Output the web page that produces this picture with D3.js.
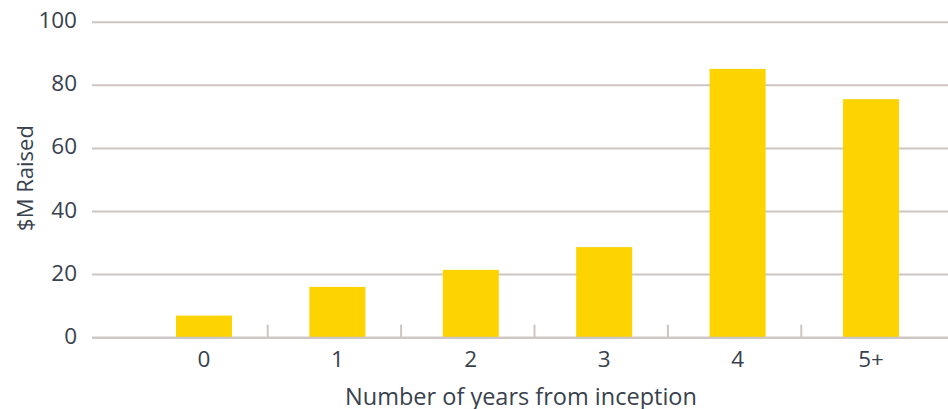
<!DOCTYPE html>
<html>
<head>
<meta charset="utf-8">
<script src="https://cdn.jsdelivr.net/npm/d3@7/dist/d3.min.js"></script>
<style>
  html, body { margin: 0; padding: 0; background: #fff; }
  svg { display: block; }
  text { font-family: "Open Sans", "Noto Sans", sans-serif; fill: #38414d; }
</style>
</head>
<body>
<svg id="chart" width="948" height="409"></svg>
<script>
// Funds raised by years since inception
const categories = ["0", "1", "2", "3", "4", "5+"];
const raised = [7, 16.1, 21.5, 28.7, 85.2, 75.6];
const yTicks = [0, 20, 40, 60, 80, 100];

const svg = d3.select("#chart");

const gridColor = "#ccc5c2";
const barColor = "#fdd300";

const plotLeft = 92, plotRight = 948;
const y = d3.scaleLinear().domain([0, 100]).range([337.7, 22.2]);

const x = d3.scaleBand()
  .domain(categories)
  .range([137.3, 937.7])
  .paddingInner(0.58)
  .paddingOuter(0.29);

// horizontal gridlines
svg.append("g")
  .selectAll("line")
  .data(yTicks)
  .join("line")
  .attr("x1", plotLeft)
  .attr("x2", plotRight)
  .attr("y1", d => y(d))
  .attr("y2", d => y(d))
  .attr("stroke", gridColor)
  .attr("stroke-width", 2);

// y tick labels
svg.append("g")
  .selectAll("text")
  .data(yTicks)
  .join("text")
  .attr("x", 77)
  .attr("y", d => y(d) + 6)
  .attr("text-anchor", "end")
  .attr("font-size", 22.5)
  .text(d => d);

// bars
svg.append("g")
  .selectAll("rect")
  .data(categories.map((c, i) => ({ c, v: raised[i] })))
  .join("rect")
  .attr("x", d => x(d.c))
  .attr("width", x.bandwidth())
  .attr("y", d => y(d.v))
  .attr("height", d => y(0) - y(d.v))
  .attr("fill", barColor);

// category separators on the baseline
const gap = x.step() - x.bandwidth();
svg.append("g")
  .selectAll("line")
  .data(categories.slice(0, -1))
  .join("line")
  .attr("x1", d => x(d) + x.bandwidth() + gap / 2 - 3)
  .attr("x2", d => x(d) + x.bandwidth() + gap / 2 - 3)
  .attr("y1", y(0) - 13)
  .attr("y2", y(0))
  .attr("stroke", gridColor)
  .attr("stroke-width", 2);

// redraw baseline on top of the bars
svg.append("line")
  .attr("x1", plotLeft).attr("x2", plotRight)
  .attr("y1", y(0)).attr("y2", y(0))
  .attr("stroke", gridColor)
  .attr("stroke-width", 2);

// x tick labels
svg.append("g")
  .selectAll("text")
  .data(categories)
  .join("text")
  .attr("x", d => x(d) + x.bandwidth() / 2)
  .attr("y", 367)
  .attr("text-anchor", "middle")
  .attr("font-size", 22.5)
  .text(d => d);

// axis titles
svg.append("text")
  .attr("x", 521)
  .attr("y", 405)
  .attr("text-anchor", "middle")
  .attr("font-size", 23.5)
  .text("Number of years from inception");

svg.append("text")
  .attr("transform", "translate(33,178) rotate(-90)")
  .attr("text-anchor", "middle")
  .attr("font-size", 22)
  .text("$M Raised");
</script>
</body>
</html>
